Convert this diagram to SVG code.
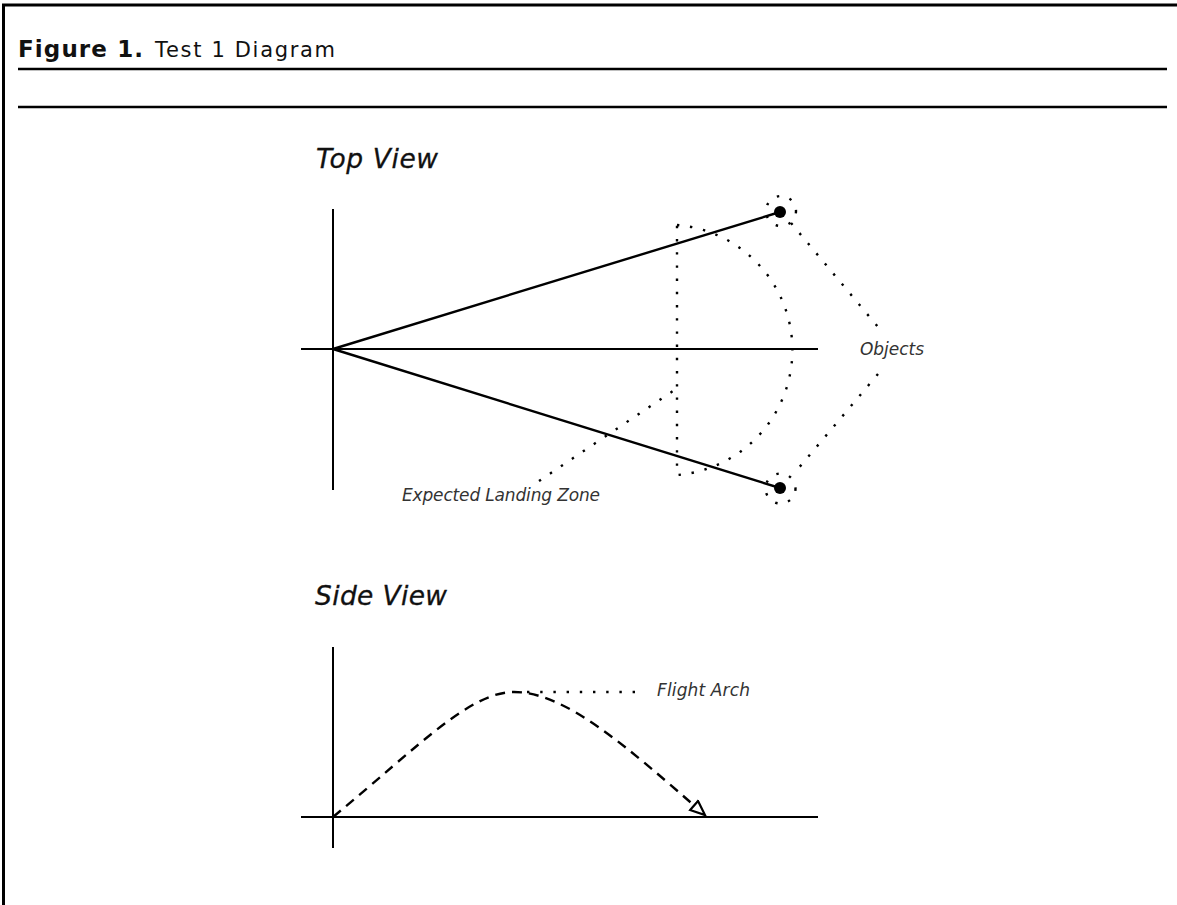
<svg xmlns="http://www.w3.org/2000/svg" width="1177" height="905" viewBox="0 0 1177 905">
<style>
.frame{stroke:#000;stroke-width:3;fill:none}
.rule{stroke:#000;stroke-width:2.5;fill:none}
.axis{stroke:#000;stroke-width:2;fill:none}
.solid{stroke:#000;stroke-width:2.4;fill:none}
.dot{stroke:#000;stroke-width:2.4;fill:none;stroke-dasharray:2.4 10.8}
.dash{stroke:#000;stroke-width:2.4;fill:none;stroke-dasharray:10 7}
.title{font-family:"DejaVu Sans","Liberation Sans",sans-serif;font-size:21px;fill:#111}
.head{font-family:"DejaVu Sans","Liberation Sans",sans-serif;font-size:26.5px;font-style:italic;fill:#111;stroke:#111;stroke-width:0.3}
.lbl{font-family:"DejaVu Sans","Liberation Sans",sans-serif;font-size:17px;font-style:italic;fill:#333}
</style>
<defs>
<marker id="open" markerUnits="userSpaceOnUse" markerWidth="20" markerHeight="16" refX="16" refY="7" orient="auto">
<path d="M1.5,1 L16,7 L1.5,13 z" fill="#fff" stroke="#000" stroke-width="2.2"/>
</marker>
</defs>
<rect width="1177" height="905" fill="#fff"/>
<g id="frame">
<path class="frame" d="M3.5,905 V5 H1177"/>
<line class="rule" x1="18" y1="69" x2="1167" y2="69"/>
<line class="rule" x1="18" y1="107" x2="1167" y2="107"/>
<text class="title" x="18" y="57"><tspan font-weight="bold" font-size="23" textLength="125">Figure 1.</tspan><tspan x="155" textLength="180">Test 1 Diagram</tspan></text>
</g>
<g id="top-view">
<text class="head" x="316" y="168" textLength="122">Top View</text>
<line class="axis" x1="333" y1="209" x2="333" y2="490"/>
<line class="axis" x1="301" y1="349" x2="818" y2="349"/>
</g>
<g id="landing-zone">
<path class="dot" d="M677,225 A125.4,125.4 0 0 1 677,475 Z"/>
<text class="lbl" x="402" y="501" textLength="198">Expected Landing Zone</text>
</g>
<g id="object-top">
<circle cx="780" cy="212" r="6" fill="#000"/>
<circle class="dot" cx="781" cy="211" r="15"/>
</g>
<g id="object-bottom">
<circle cx="780" cy="488" r="6" fill="#000"/>
<circle class="dot" cx="780.5" cy="488.5" r="15"/>
</g>
<g id="objects-label">
<text class="lbl" x="860" y="355" textLength="64">Objects</text>
</g>
<g id="side-view">
<text class="head" x="315" y="605" textLength="132">Side View</text>
<line class="axis" x1="333" y1="647" x2="333" y2="848"/>
<line class="axis" x1="301" y1="817" x2="818" y2="817"/>
</g>
<g id="flight-arch-label">
<text class="lbl" x="657" y="696" textLength="93">Flight Arch</text>
</g>
<g id="connectors">
<line class="solid" x1="333" y1="349" x2="780" y2="212"/>
<line class="solid" x1="333" y1="349" x2="780" y2="488"/>
<line class="dot" x1="791" y1="223" x2="878" y2="327"/>
<line class="dot" x1="878" y1="374" x2="797" y2="470"/>
<line class="dot" x1="539" y1="481" x2="676" y2="389"/>
<path class="dash" d="M333,817 C420,745 470,692 514,692 C565,692 625,745 705,815" marker-end="url(#open)"/>
<line class="dot" x1="527" y1="692" x2="645" y2="692"/>
</g>
</svg>
